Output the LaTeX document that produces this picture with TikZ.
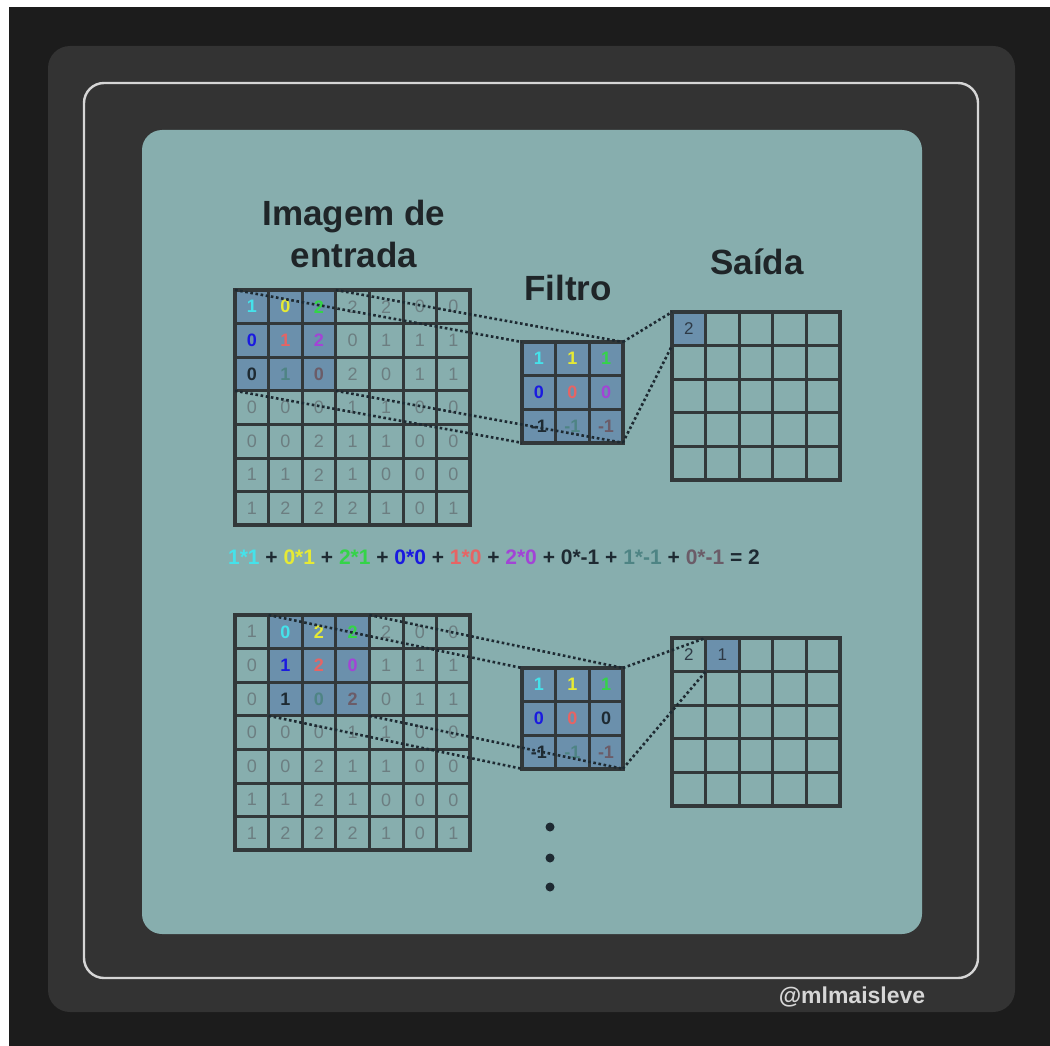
\documentclass[tikz,border=0pt]{standalone}
\usepackage{fontspec}
\setmainfont{Liberation Sans}
\usetikzlibrary{positioning}

\definecolor{bgdark}{HTML}{1C1C1C}
\definecolor{frame}{HTML}{333333}
\definecolor{outline}{HTML}{D6D6D6}
\definecolor{panel}{HTML}{87AEAE}
\definecolor{patch}{HTML}{6B90AC}
\definecolor{gridline}{HTML}{32383A}
\definecolor{headc}{HTML}{1F2528}
\definecolor{gy}{HTML}{6C7E81}
\definecolor{cy}{HTML}{45E2EA}
\definecolor{ye}{HTML}{E6EA34}
\definecolor{gr}{HTML}{34D448}
\definecolor{bl}{HTML}{1A1AE0}
\definecolor{rd}{HTML}{E66464}
\definecolor{pu}{HTML}{A244D6}
\definecolor{dk}{HTML}{1E2A32}
\definecolor{tg}{HTML}{4E8484}
\definecolor{br}{HTML}{6B5C68}
\definecolor{od}{HTML}{2E3A46}

% one grid of cell nodes: name, left, top, rows of value/colour
\newcommand{\cellgrid}[4]{%
  \foreach \row [count=\r from 0] in {#4} {
    \foreach \v/\col [count=\c from 0] in \row {
      \node[cell, t\col] (#1-\r-\c) at ({#2+(\c+0.5)*33.6},{#3+(\r+0.5)*33.6}) {\v};
    }
  }
}

\begin{document}
\begin{tikzpicture}[x=1pt, y=-1pt,
    cell/.style={draw=gridline, line width=3pt, minimum size=33.6pt, inner sep=0pt, outer sep=0pt, font=\fontsize{18}{18}\selectfont},
    bdig/.style={font=\fontsize{18}{18}\selectfont\bfseries},
    tgy/.style={text=gy},
    tcy/.style={text=cy, bdig},
    tye/.style={text=ye, bdig},
    tgr/.style={text=gr, bdig},
    tbl/.style={text=bl, bdig},
    trd/.style={text=rd, bdig},
    tpu/.style={text=pu, bdig},
    tdk/.style={text=dk, bdig},
    ttg/.style={text=tg, bdig},
    tbr/.style={text=br, bdig},
    tod/.style={text=od, font=\fontsize{17}{17}\selectfont},
    border/.style={draw=gridline, line width=4pt},
    link/.style={draw=dk, line width=2.6pt, dash pattern=on 2.6pt off 2.6pt},
    title/.style={font=\fontsize{35}{42}\selectfont\bfseries, text=headc, align=center},
    formula/.style={font=\fontsize{21}{21}\selectfont\bfseries, text=dk},
    dot/.style={circle, fill=dk, inner sep=0pt, minimum size=9pt},
    wmark/.style={font=\fontsize{23}{23}\selectfont\bfseries, text=outline}]
  \useasboundingbox (0,0) rectangle (1050,1046);

  % Background and frames
  \fill[white] (0,0) rectangle (1050,1046);
  \fill[bgdark] (9,7) rectangle (1050,1046);
  \fill[frame, rounded corners=22pt] (48,46) rectangle (1015,1012);
  \draw[outline, line width=2.4pt, rounded corners=20pt] (84,83) rectangle (978,978);
  \fill[panel, rounded corners=20pt] (142,130) rectangle (922,934);

  % Highlighted cells
  \fill[patch] (235,290) rectangle ++(100.8,100.8);
  \fill[patch] (522,342) rectangle ++(100.8,100.8);
  \fill[patch] (672,312) rectangle ++(33.6,33.6);
  \fill[patch] (268.6,615) rectangle ++(100.8,100.8);
  \fill[patch] (522,668) rectangle ++(100.8,100.8);
  \fill[patch] (705.6,638) rectangle ++(33.6,33.6);

  % Titles
  \node[title, anchor=base] (inTitle) at (354,267) {Imagem de\\entrada};
  \node[title, anchor=base] (filTitle) at (568,300) {Filtro};
  \node[title, anchor=base] (outTitle) at (757,274) {Saída};

  % First step
  \cellgrid{inA}{235}{290}{{1/cy,0/ye,2/gr,2/gy,2/gy,0/gy,0/gy},{0/bl,1/rd,2/pu,0/gy,1/gy,1/gy,1/gy},{0/dk,1/tg,0/br,2/gy,0/gy,1/gy,1/gy},{0/gy,0/gy,0/gy,1/gy,1/gy,0/gy,0/gy},{0/gy,0/gy,2/gy,1/gy,1/gy,0/gy,0/gy},{1/gy,1/gy,2/gy,1/gy,0/gy,0/gy,0/gy},{1/gy,2/gy,2/gy,2/gy,1/gy,0/gy,1/gy}}
  \cellgrid{filA}{522}{342}{{1/cy,1/ye,1/gr},{0/bl,0/rd,0/pu},{-1/dk,-1/tg,-1/br}}
  \cellgrid{outA}{672}{312}{{2/od,/od,/od,/od,/od},{/od,/od,/od,/od,/od},{/od,/od,/od,/od,/od},{/od,/od,/od,/od,/od},{/od,/od,/od,/od,/od}}
  \draw[border] (inA-0-0.north west) rectangle (inA-6-6.south east);
  \draw[border] (filA-0-0.north west) rectangle (filA-2-2.south east);
  \draw[border] (outA-0-0.north west) rectangle (outA-4-4.south east);

  \draw[link] (inA-0-0.north west) -- (filA-0-0.north west);
  \draw[link] (inA-0-2.north east) -- (filA-0-2.north east);
  \draw[link] (inA-2-0.south west) -- (filA-2-0.south west);
  \draw[link] (inA-2-2.south east) -- (filA-2-2.south east);
  \draw[link] (filA-0-2.north east) -- (outA-0-0.north west);
  \draw[link] (filA-2-2.south east) -- (outA-0-0.south west);

  % Sum of products
  \node[formula, anchor=base] (sumA) at (494,564) {\textcolor{cy}{1*1} + \textcolor{ye}{0*1} + \textcolor{gr}{2*1} + \textcolor{bl}{0*0} + \textcolor{rd}{1*0} + \textcolor{pu}{2*0} + 0*-1 + \textcolor{tg}{1*-1} + \textcolor{br}{0*-1} = 2};

  % Second step
  \cellgrid{inB}{235}{615}{{1/gy,0/cy,2/ye,2/gr,2/gy,0/gy,0/gy},{0/gy,1/bl,2/rd,0/pu,1/gy,1/gy,1/gy},{0/gy,1/dk,0/tg,2/br,0/gy,1/gy,1/gy},{0/gy,0/gy,0/gy,1/gy,1/gy,0/gy,0/gy},{0/gy,0/gy,2/gy,1/gy,1/gy,0/gy,0/gy},{1/gy,1/gy,2/gy,1/gy,0/gy,0/gy,0/gy},{1/gy,2/gy,2/gy,2/gy,1/gy,0/gy,1/gy}}
  \cellgrid{filB}{522}{668}{{1/cy,1/ye,1/gr},{0/bl,0/rd,0/dk},{-1/dk,-1/tg,-1/br}}
  \cellgrid{outB}{672}{638}{{2/od,1/od,/od,/od,/od},{/od,/od,/od,/od,/od},{/od,/od,/od,/od,/od},{/od,/od,/od,/od,/od},{/od,/od,/od,/od,/od}}
  \draw[border] (inB-0-0.north west) rectangle (inB-6-6.south east);
  \draw[border] (filB-0-0.north west) rectangle (filB-2-2.south east);
  \draw[border] (outB-0-0.north west) rectangle (outB-4-4.south east);

  \draw[link] (inB-0-1.north west) -- (filB-0-0.north west);
  \draw[link] (inB-0-3.north east) -- (filB-0-2.north east);
  \draw[link] (inB-2-1.south west) -- (filB-2-0.south west);
  \draw[link] (inB-2-3.south east) -- (filB-2-2.south east);
  \draw[link] (filB-0-2.north east) -- (outB-0-1.north west);
  \draw[link] (filB-2-2.south east) -- (outB-0-1.south west);

  % More steps
  \node[dot] (dotA) at (550,827) {};
  \node[dot] (dotB) at (550,858) {};
  \node[dot] (dotC) at (550,887) {};

  \node[wmark] (handle) at (852,997) {@mlmaisleve};
\end{tikzpicture}
\end{document}
